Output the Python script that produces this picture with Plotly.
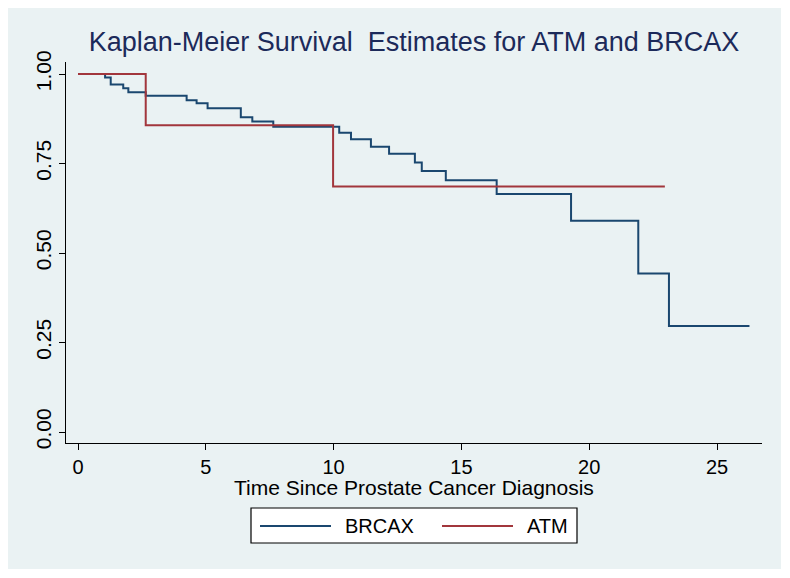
import plotly.graph_objects as go

# ---- data ----
brcax_time = [0.88, 1.06, 1.28, 1.77, 1.97, 2.65, 4.25, 4.64, 5.07, 6.37, 6.82, 7.64,
              10.22, 10.68, 11.46, 12.17, 13.18, 13.45, 14.39, 16.38, 19.29, 21.92, 23.12, 26.27]
brcax_surv = [1.0, 0.990, 0.971, 0.960, 0.949, 0.939, 0.927, 0.918, 0.904, 0.879, 0.867, 0.853,
              0.836, 0.818, 0.797, 0.777, 0.753, 0.729, 0.703, 0.665, 0.590, 0.443, 0.296, 0.296]
atm_time = [0.0, 2.65, 9.98, 22.96]
atm_surv = [1.0, 0.857, 0.686, 0.686]

x_ticks = [0, 5, 10, 15, 20, 25]
y_ticks = [0.0, 0.25, 0.5, 0.75, 1.0]
y_tick_labels = ["0.00", "0.25", "0.50", "0.75", "1.00"]

series_names = ["BRCAX", "ATM"]
series_colors = ["#1a476f", "#a2363c"]

TITLE = "Kaplan-Meier Survival  Estimates for ATM and BRCAX"
XTITLE = "Time Since Prostate Cancer Diagnosis"

FONT = "Liberation Sans, Arial, Helvetica, sans-serif"
BG = "#eaf2f3"

# plot area geometry (pixels)
W, H = 790, 578
L, R, T, B = 66, 762, 62, 443
pw, ph = R - L, B - T

def px(x):
    return (x - L) / pw

def py(y):
    return (B - y) / ph

fig = go.Figure()
fig.add_trace(go.Scatter(x=brcax_time, y=brcax_surv, mode="lines", line_shape="hv",
                         name=series_names[0], line=dict(color=series_colors[0], width=2),
                         showlegend=False))
fig.add_trace(go.Scatter(x=atm_time, y=atm_surv, mode="lines", line_shape="hv",
                         name=series_names[1], line=dict(color=series_colors[1], width=2),
                         showlegend=False))

shapes = [
    # outer light background panel with white margin
    dict(type="rect", xref="paper", yref="paper", x0=px(8), x1=px(781), y0=py(569), y1=py(8),
         fillcolor=BG, line=dict(width=0), layer="below"),
    # legend box
    dict(type="rect", xref="paper", yref="paper", x0=px(251), x1=px(577), y0=py(543), y1=py(508),
         fillcolor="white", line=dict(color="black", width=1.2)),
    dict(type="line", xref="paper", yref="paper", x0=px(260), x1=px(331), y0=py(526), y1=py(526),
         line=dict(color=series_colors[0], width=2)),
    dict(type="line", xref="paper", yref="paper", x0=px(442), x1=px(513), y0=py(526), y1=py(526),
         line=dict(color=series_colors[1], width=2)),
]

annotations = [
    dict(text=XTITLE, xref="paper", yref="paper", x=0.5, y=py(487), xanchor="center",
         yanchor="middle", showarrow=False, font=dict(family=FONT, size=21, color="black")),
    dict(text=series_names[0], xref="paper", yref="paper", x=px(343), y=py(526), xanchor="left",
         yanchor="middle", showarrow=False, font=dict(family=FONT, size=20, color="black")),
    dict(text=series_names[1], xref="paper", yref="paper", x=px(525), y=py(526), xanchor="left",
         yanchor="middle", showarrow=False, font=dict(family=FONT, size=20, color="black")),
]

x_per_px = 25.0 / (717 - 78)
y_per_px = 1.0 / (432 - 74)

fig.update_layout(
    width=W, height=H,
    margin=dict(l=L, r=W - R, t=T, b=H - B, pad=0, autoexpand=False),
    paper_bgcolor="white",
    plot_bgcolor="white",
    title=dict(text=TITLE, x=0.5, xref="paper", xanchor="center", y=1 - 42 / H,
               yref="container", yanchor="middle", automargin=False,
               font=dict(family=FONT, size=27, color="#1c2a5a")),
    shapes=shapes,
    annotations=annotations,
    showlegend=False,
    xaxis=dict(range=[0 - (78 - L) * x_per_px, 0 + (R - 78) * x_per_px], automargin=False,
               tickvals=x_ticks, ticks="outside", ticklen=6, tickcolor="black", tickwidth=1,
               showgrid=False, zeroline=False, showline=True, linecolor="black", linewidth=1.2,
               tickfont=dict(family=FONT, size=20, color="black"), mirror=False),
    yaxis=dict(range=[0 - (B - 432) * y_per_px, 1 + (74 - T) * y_per_px], automargin=False,
               tickvals=y_ticks, ticktext=y_tick_labels, tickangle=-90,
               ticks="outside", ticklen=6, tickcolor="black", tickwidth=1,
               showgrid=True, gridcolor=BG, gridwidth=1.5, zeroline=False,
               showline=True, linecolor="black", linewidth=1.2,
               tickfont=dict(family=FONT, size=21, color="black")),
)

fig.write_html("out.html", config={"displayModeBar": False},
               post_script="document.body.style.margin='0px';document.body.style.overflow='hidden';")
